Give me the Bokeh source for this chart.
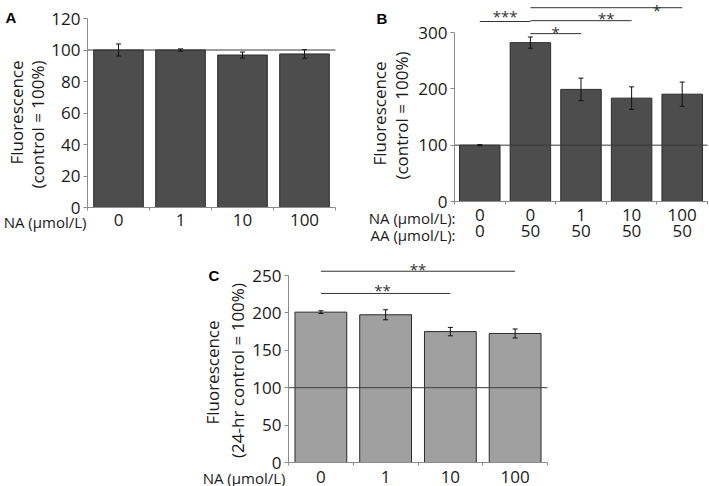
import math
from bokeh.plotting import figure
from bokeh.models import (ColumnDataSource, FixedTicker, Range1d, Whisker,
                          TeeHead, Spacer, LinearAxis)
from bokeh.layouts import row, column
from bokeh.embed import file_html
from bokeh.resources import INLINE
from bokeh.core.properties import value

# ---------------- data ----------------
# Panel A
a_na = ["0", "1", "10", "100"]
a_mean = [100, 100, 96.8, 97.5]
a_err = [3.8, 0.7, 1.9, 2.7]

# Panel B
b_na = ["0", "0", "1", "10", "100"]
b_aa = ["0", "50", "50", "50", "50"]
b_mean = [100, 282, 199, 183.5, 190.5]
b_err = [1, 10, 20, 20, 21.5]
b_sig_from = [0, 1, 1, 1]
b_sig_to = [1, 2, 3, 4]
b_sig_text = ["***", "*", "**", "*"]

# Panel C
c_na = ["0", "1", "10", "100"]
c_mean = [201, 197.5, 175, 172.5]
c_err = [1.8, 6.7, 5.6, 6.0]
c_sig_from = [0, 0]
c_sig_to = [2, 3]
c_sig_text = ["**", "**"]

# ---------------- styling ----------------
FONT = "Open Sans"
FS = "17px"
TXT = "#1a1a1a"
AXC = "#8c8c8c"
EDGE = "#2b2b2b"


class Geo:
    """Pixel box of the axes inside a figure -> data ranges."""
    def __init__(self, W, H, L, R, T, B, xmax, ymax):
        self.W, self.H, self.L, self.B = W, H, L, B
        self.sx = (R - L) / xmax
        self.sy = (B - T) / ymax
        self.xr = Range1d(-L / self.sx, (W - L) / self.sx)
        self.yr = Range1d(-(H - B) / self.sy, B / self.sy)

    def px(self, fx):   # figure pixel x -> data x
        return (fx - self.L) / self.sx

    def py(self, fy):   # figure pixel y -> data y
        return (self.B - fy) / self.sy


def make_fig(g):
    p = figure(width=g.W, height=g.H, x_range=g.xr, y_range=g.yr,
               output_backend="svg", toolbar_location=None,
               x_axis_location=None, y_axis_location=None,
               min_border_left=0, min_border_right=0, min_border_top=0,
               min_border_bottom=0)
    p.outline_line_color = None
    p.xgrid.grid_line_color = None
    p.ygrid.grid_line_color = None
    p.background_fill_color = "white"
    p.border_fill_color = "white"
    return p


def x_axis(p, n, labels, standoff, show_line=True):
    xa = LinearAxis(fixed_location=0)
    xa.ticker = FixedTicker(ticks=[i + 0.5 for i in range(n)],
                            minor_ticks=list(range(n + 1)) if show_line else [])
    xa.bounds = (0, n)
    xa.major_label_overrides = {i + 0.5: labels[i] for i in range(n)}
    xa.axis_line_color = AXC if show_line else None
    xa.major_tick_line_color = None
    xa.major_tick_out = 0
    xa.major_tick_in = 0
    xa.minor_tick_line_color = AXC if show_line else None
    xa.minor_tick_out = 3
    xa.minor_tick_in = 0
    xa.major_label_standoff = standoff
    xa.major_label_text_font = FONT
    xa.major_label_text_font_size = FS
    xa.major_label_text_color = TXT
    p.add_layout(xa, "below")


def y_axis(p, ticks, ymax):
    ya = LinearAxis(fixed_location=0)
    ya.ticker = FixedTicker(ticks=ticks)
    ya.bounds = (0, ymax)
    ya.axis_line_color = AXC
    ya.major_tick_line_color = AXC
    ya.major_tick_out = 4
    ya.major_tick_in = 0
    ya.minor_tick_line_color = None
    ya.major_label_standoff = 3
    ya.major_label_text_font = FONT
    ya.major_label_text_font_size = FS
    ya.major_label_text_color = TXT
    p.add_layout(ya, "left")


def bars(p, means, errs, fill):
    n = len(means)
    src = ColumnDataSource(dict(
        x=[i + 0.5 for i in range(n)], top=means,
        upper=[m + e for m, e in zip(means, errs)],
        lower=[m - e for m, e in zip(means, errs)]))
    p.vbar(x="x", top="top", bottom=0, width=0.8, source=src,
           fill_color=fill, line_color=EDGE, line_width=1)
    # reference line at 100 %, across the whole axis
    p.segment(x0=[0], x1=[n], y0=[100], y1=[100], line_color="#3a3a3a",
              line_width=1)
    p.add_layout(Whisker(base="x", upper="upper", lower="lower", source=src,
                         line_color="#111111", line_width=1, level="annotation",
                         upper_head=TeeHead(size=5, line_color="#111111", line_width=1),
                         lower_head=TeeHead(size=5, line_color="#111111", line_width=1)))


def brackets(p, f, t, txt, line_y, star_x, star_y):
    src = ColumnDataSource(dict(
        x0=[i + 0.5 for i in f], x1=[j + 0.5 for j in t], y=line_y,
        tx=star_x, ty=star_y, txt=txt))
    p.segment(x0="x0", y0="y", x1="x1", y1="y", source=src,
              line_color="#333333", line_width=1)
    p.text(x="tx", y="ty", text="txt", source=src, text_align="center",
           text_baseline="middle", text_font=value(FONT),
           text_font_size="15px", text_color="#333333")


def put_text(p, x, y, s, align="right", baseline="middle", bold=False,
             size="15px", angle=0.0):
    p.text(x=[x], y=[y], text=[s], text_align=align, text_baseline=baseline,
           angle=angle,
           text_font=value("Liberation Sans" if bold else FONT),
           text_font_size="15px" if bold else size,
           text_font_style="bold" if bold else "normal",
           text_color="black" if bold else TXT)


def y_title(p, g, lines, centers):
    for s, (cx, cy) in zip(lines, centers):
        put_text(p, g.px(cx), g.py(cy), s, align="center", size=FS,
                 angle=math.pi / 2)


# ---------------- panel A ----------------
gA = Geo(360, 245, 87, 335, 18, 207, 4, 120)
pA = make_fig(gA)
bars(pA, a_mean, a_err, "#4d4d4d")
x_axis(pA, 4, a_na, 3)
y_axis(pA, [0, 20, 40, 60, 80, 100, 120], 120)
y_title(pA, gA, ["Fluorescence", "(control = 100%)"], [(16, 112), (37, 124)])
put_text(pA, gA.px(86), gA.py(221), "NA (µmol/L)")
put_text(pA, gA.px(5), gA.py(17), "A", align="left",
         baseline="alphabetic", bold=True)

# ---------------- panel B ----------------
gB = Geo(349, 245, 94, 347, 32, 201, 5, 300)
pB = make_fig(gB)
bars(pB, b_mean, b_err, "#4d4d4d")
x_axis(pB, 5, b_na, 4)
x_axis(pB, 5, b_aa, 23, show_line=False)
y_axis(pB, [0, 100, 200, 300], 300)
y_title(pB, gB, ["Fluorescence", "(control = 100%)"], [(19, 113), (41, 115)])
brackets(pB, b_sig_from, b_sig_to, b_sig_text,
         [319.5, 298, 321, 344], [1.0, 2.0, 3.0, 4.0], [330, 301, 325, 340])
put_text(pB, gB.px(95), gB.py(217), "NA (µmol/L):")
put_text(pB, gB.px(95), gB.py(234), "AA (µmol/L):")
put_text(pB, gB.px(16), gB.py(18), "B", align="left",
         baseline="alphabetic", bold=True)

# ---------------- panel C ----------------
gC = Geo(360, 241, 88, 347, 30, 217, 4, 250)
pC = make_fig(gC)
bars(pC, c_mean, c_err, "#a0a0a0")
x_axis(pC, 4, c_na, 5)
y_axis(pC, [0, 50, 100, 150, 200, 250], 250)
y_title(pC, gC, ["Fluorescence", "(24-hr control = 100%)"], [(12, 127), (37, 125)])
brackets(pC, c_sig_from, c_sig_to, c_sig_text,
         [226, 255.7], [1.45, 2.0], [230, 259])
put_text(pC, gC.px(85), gC.py(232), "NA (µmol/L)")
put_text(pC, gC.px(8), gC.py(30), "C", align="left",
         baseline="alphabetic", bold=True)

layout = column(row(pA, pB), row(Spacer(width=200, height=10), pC))

open("out.html", "w").write(file_html(layout, INLINE))
